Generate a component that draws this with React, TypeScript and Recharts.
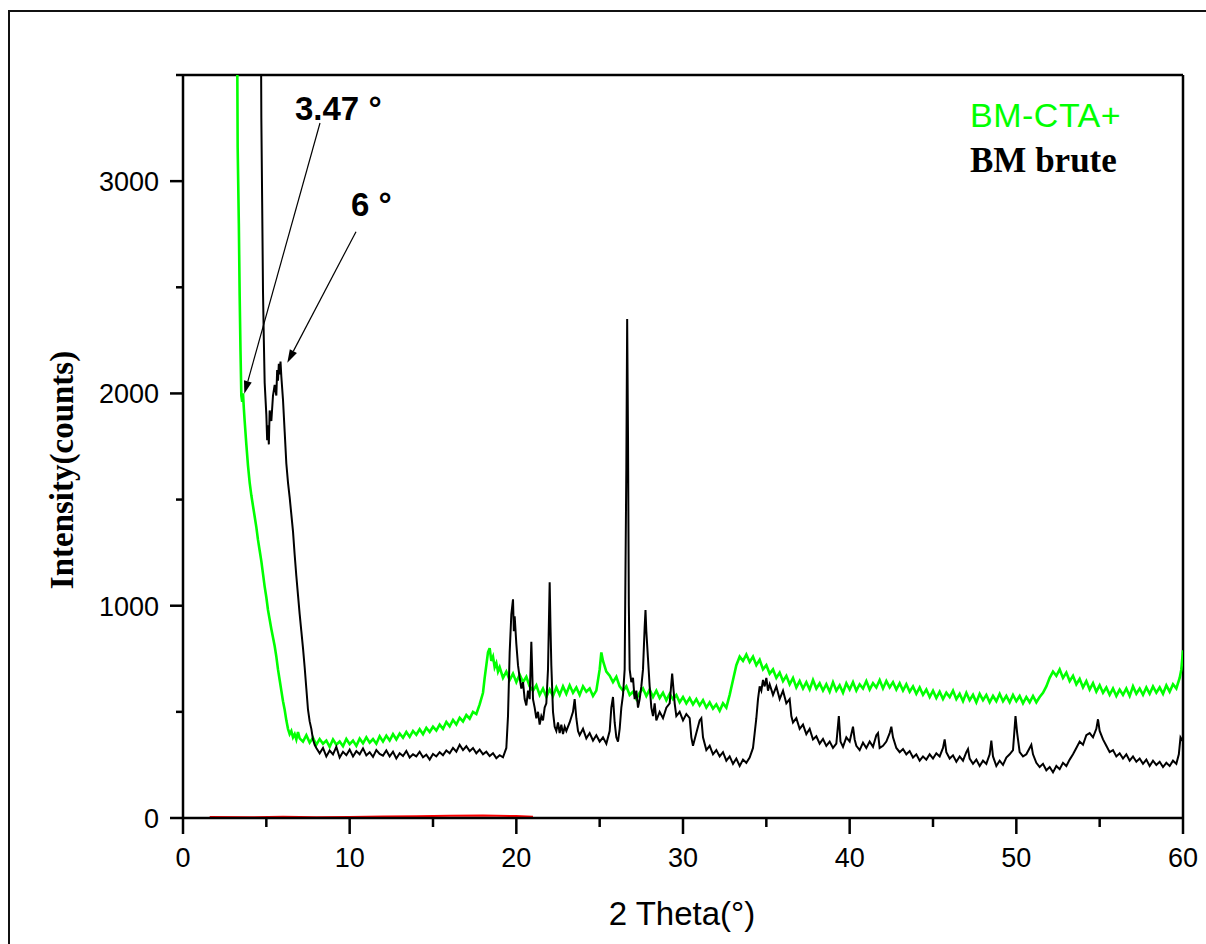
import { LineChart, Line, XAxis, YAxis, ReferenceLine, Legend } from 'recharts';

// 2-theta positions of the axis ticks, majors get a label
const thetaTicks = [0, 5, 10, 15, 20, 25, 30, 35, 40, 45, 50, 55, 60];
const thetaLabels = [0, 10, 20, 30, 40, 50, 60];
const countTicks = [0, 500, 1000, 1500, 2000, 2500, 3000, 3500];
const countLabels = [0, 1000, 2000, 3000];

// BM brute (black trace), [2theta, counts]
const bmBrute: [number, number][] = [
  [4.5, 6500], [4.65, 4200], [4.7, 3300], [4.75, 2900], [4.8, 2480], [4.85, 2250], [4.9, 2050],
  [5.0, 1900], [5.05, 1780], [5.1, 1850], [5.15, 1760], [5.2, 1920], [5.3, 1870], [5.4, 1990],
  [5.5, 2040], [5.6, 1990], [5.65, 2110], [5.7, 2060], [5.75, 2140], [5.8, 2090], [5.85, 2150],
  [5.9, 2080], [6.0, 1970], [6.1, 1820], [6.2, 1670], [6.3, 1580], [6.4, 1510], [6.5, 1430],
  [6.6, 1350], [6.7, 1240], [6.8, 1140], [6.9, 1050], [7.0, 960], [7.1, 880], [7.2, 800],
  [7.3, 710], [7.4, 610], [7.5, 510], [7.6, 455], [7.7, 420], [7.8, 370], [7.9, 345], [8.0, 330],
  [8.2, 305], [8.4, 330], [8.6, 290], [8.8, 318], [9.0, 300], [9.2, 335], [9.4, 285], [9.6, 312],
  [9.8, 296], [10.0, 322], [10.2, 290], [10.4, 315], [10.6, 300], [10.8, 328], [11.0, 295],
  [11.2, 310], [11.4, 288], [11.6, 320], [11.8, 302], [12.0, 294], [12.2, 318], [12.4, 290],
  [12.6, 312], [12.8, 280], [13.0, 305], [13.2, 292], [13.4, 316], [13.6, 285], [13.8, 300],
  [14.0, 290], [14.2, 312], [14.4, 286], [14.6, 298], [14.8, 275], [15.0, 302], [15.2, 290],
  [15.4, 310], [15.6, 296], [15.8, 318], [16.0, 305], [16.2, 330], [16.4, 312], [16.6, 345],
  [16.8, 320], [17.0, 338], [17.2, 315], [17.4, 330], [17.6, 305], [17.8, 322], [18.0, 300],
  [18.2, 312], [18.4, 292], [18.6, 305], [18.8, 282], [19.0, 296], [19.2, 286], [19.4, 330],
  [19.5, 480], [19.6, 780], [19.7, 960], [19.8, 1030], [19.85, 880], [19.9, 950], [20.0, 820],
  [20.1, 720], [20.2, 660], [20.3, 610], [20.4, 640], [20.5, 560], [20.6, 530], [20.7, 600],
  [20.8, 560], [20.9, 830], [20.95, 700], [21.0, 560], [21.1, 520], [21.2, 470], [21.3, 500],
  [21.4, 440], [21.5, 480], [21.6, 460], [21.7, 520], [21.8, 540], [21.9, 700], [22.0, 1110],
  [22.05, 900], [22.1, 720], [22.2, 500], [22.3, 430], [22.4, 410], [22.5, 450], [22.6, 400],
  [22.7, 440], [22.8, 395], [22.9, 430], [23.0, 410], [23.2, 450], [23.4, 500], [23.5, 560],
  [23.6, 470], [23.7, 410], [23.8, 390], [24.0, 420], [24.2, 375], [24.4, 400], [24.6, 365],
  [24.8, 390], [25.0, 360], [25.2, 380], [25.4, 350], [25.6, 410], [25.7, 520], [25.8, 570],
  [25.9, 450], [26.0, 380], [26.1, 360], [26.2, 420], [26.3, 520], [26.4, 580], [26.5, 700],
  [26.6, 1650], [26.65, 2350], [26.7, 1800], [26.75, 1000], [26.8, 700], [26.9, 640], [27.0, 660],
  [27.1, 560], [27.2, 600], [27.3, 520], [27.4, 560], [27.5, 620], [27.6, 700], [27.7, 900],
  [27.75, 980], [27.8, 880], [27.9, 750], [28.0, 620], [28.1, 520], [28.2, 480], [28.3, 540],
  [28.4, 460], [28.6, 500], [28.8, 470], [29.0, 520], [29.2, 540], [29.35, 680], [29.5, 540],
  [29.6, 480], [29.8, 500], [30.0, 460], [30.2, 490], [30.4, 470], [30.5, 380], [30.6, 340],
  [30.8, 400], [31.0, 460], [31.1, 470], [31.2, 380], [31.4, 320], [31.6, 340], [31.8, 300],
  [32.0, 320], [32.2, 290], [32.4, 310], [32.6, 270], [32.8, 290], [33.0, 255], [33.2, 280],
  [33.4, 245], [33.6, 275], [33.8, 260], [34.0, 285], [34.2, 330], [34.3, 400], [34.4, 470],
  [34.5, 560], [34.6, 620], [34.7, 600], [34.8, 650], [34.9, 620], [35.0, 660], [35.1, 600],
  [35.2, 630], [35.4, 580], [35.6, 620], [35.8, 560], [36.0, 600], [36.2, 540], [36.4, 560],
  [36.5, 480], [36.6, 450], [36.8, 470], [37.0, 420], [37.2, 440], [37.4, 395], [37.6, 420],
  [37.8, 370], [38.0, 385], [38.2, 350], [38.4, 372], [38.6, 340], [38.8, 360], [39.0, 330],
  [39.2, 350], [39.35, 480], [39.45, 360], [39.6, 335], [39.8, 380], [40.0, 360], [40.2, 430],
  [40.3, 370], [40.4, 340], [40.6, 320], [40.8, 355], [41.0, 330], [41.2, 360], [41.4, 335],
  [41.6, 390], [41.7, 400], [41.8, 330], [42.0, 340], [42.2, 360], [42.4, 400], [42.5, 430],
  [42.6, 380], [42.8, 330], [43.0, 310], [43.2, 325], [43.4, 300], [43.6, 315], [43.8, 285],
  [44.0, 300], [44.2, 270], [44.4, 290], [44.6, 275], [44.8, 300], [45.0, 280], [45.2, 305],
  [45.4, 290], [45.6, 330], [45.7, 370], [45.8, 310], [46.0, 280], [46.2, 295], [46.4, 265],
  [46.6, 290], [46.8, 270], [47.0, 310], [47.1, 325], [47.2, 280], [47.4, 255], [47.6, 275],
  [47.8, 245], [48.0, 270], [48.2, 255], [48.4, 300], [48.5, 365], [48.6, 290], [48.8, 245],
  [49.0, 270], [49.2, 250], [49.4, 285], [49.6, 300], [49.8, 320], [49.95, 480], [50.05, 400],
  [50.2, 310], [50.4, 290], [50.6, 300], [50.8, 330], [50.9, 345], [51.0, 300], [51.2, 260],
  [51.4, 240], [51.6, 255], [51.8, 225], [52.0, 240], [52.2, 215], [52.4, 245], [52.6, 230],
  [52.8, 260], [53.0, 245], [53.2, 275], [53.4, 300], [53.6, 330], [53.8, 360], [54.0, 345],
  [54.2, 390], [54.4, 400], [54.6, 380], [54.8, 420], [54.9, 465], [55.0, 410], [55.2, 370],
  [55.4, 340], [55.6, 310], [55.8, 320], [56.0, 290], [56.2, 305], [56.4, 280], [56.6, 300],
  [56.8, 270], [57.0, 290], [57.2, 265], [57.4, 280], [57.6, 255], [57.8, 275], [58.0, 245],
  [58.2, 270], [58.4, 250], [58.6, 265], [58.8, 240], [59.0, 260], [59.2, 245], [59.4, 270],
  [59.6, 255], [59.75, 300], [59.85, 380], [60.0, 360],
];

// BM-CTA+ (green trace)
const bmCta: [number, number][] = [
  [3.1, 6000], [3.2, 4500], [3.28, 3160], [3.35, 2800], [3.4, 2460], [3.45, 2200], [3.5, 1990],
  [3.55, 1960], [3.6, 2000], [3.65, 1930], [3.7, 1870], [3.8, 1760], [3.9, 1660], [4.0, 1580],
  [4.1, 1520], [4.2, 1470], [4.3, 1420], [4.4, 1370], [4.5, 1310], [4.6, 1260], [4.7, 1210],
  [4.8, 1150], [4.9, 1090], [5.0, 1040], [5.1, 980], [5.2, 935], [5.3, 890], [5.4, 850],
  [5.5, 810], [5.6, 760], [5.7, 700], [5.8, 650], [5.9, 600], [6.0, 550], [6.1, 510], [6.2, 460],
  [6.3, 420], [6.4, 395], [6.5, 410], [6.6, 380], [6.7, 395], [6.8, 370], [6.9, 405], [7.0, 375],
  [7.2, 360], [7.4, 390], [7.6, 355], [7.8, 378], [8.0, 345], [8.2, 372], [8.4, 350], [8.6, 365],
  [8.8, 335], [9.0, 370], [9.2, 345], [9.4, 360], [9.6, 338], [9.8, 372], [10.0, 348],
  [10.2, 365], [10.4, 340], [10.6, 374], [10.8, 352], [11.0, 380], [11.2, 355], [11.4, 372],
  [11.6, 350], [11.8, 385], [12.0, 360], [12.2, 388], [12.4, 365], [12.6, 395], [12.8, 370],
  [13.0, 398], [13.2, 378], [13.4, 405], [13.6, 382], [13.8, 410], [14.0, 392], [14.2, 418],
  [14.4, 395], [14.6, 425], [14.8, 405], [15.0, 430], [15.2, 412], [15.4, 440], [15.6, 420],
  [15.8, 452], [16.0, 432], [16.2, 462], [16.4, 440], [16.6, 472], [16.8, 455], [17.0, 485],
  [17.2, 468], [17.4, 500], [17.6, 490], [17.8, 535], [18.0, 590], [18.1, 660], [18.2, 720],
  [18.3, 780], [18.4, 800], [18.5, 740], [18.6, 760], [18.7, 710], [18.8, 730], [18.9, 690],
  [19.0, 710], [19.2, 660], [19.4, 690], [19.6, 650], [19.8, 680], [20.0, 640], [20.2, 675],
  [20.4, 640], [20.6, 665], [20.8, 620], [21.0, 600], [21.2, 625], [21.4, 580], [21.6, 610],
  [21.8, 570], [22.0, 605], [22.2, 575], [22.4, 615], [22.6, 580], [22.8, 620], [23.0, 585],
  [23.2, 625], [23.4, 590], [23.6, 615], [23.8, 580], [24.0, 620], [24.2, 595], [24.4, 610],
  [24.6, 575], [24.8, 600], [25.0, 700], [25.1, 780], [25.2, 740], [25.4, 690], [25.6, 670],
  [25.8, 640], [26.0, 665], [26.2, 620], [26.4, 600], [26.6, 620], [26.8, 580], [27.0, 595],
  [27.2, 560], [27.4, 590], [27.6, 610], [27.8, 575], [28.0, 605], [28.2, 570], [28.4, 600],
  [28.6, 565], [28.8, 590], [29.0, 555], [29.2, 585], [29.4, 560], [29.6, 580], [29.8, 545],
  [30.0, 570], [30.2, 540], [30.4, 565], [30.6, 535], [30.8, 560], [31.0, 530], [31.2, 555],
  [31.4, 520], [31.6, 545], [31.8, 515], [32.0, 535], [32.2, 505], [32.4, 540], [32.6, 520],
  [32.8, 580], [33.0, 650], [33.2, 720], [33.4, 760], [33.6, 740], [33.8, 770], [34.0, 735],
  [34.2, 760], [34.4, 720], [34.6, 745], [34.8, 700], [35.0, 720], [35.2, 680], [35.4, 700],
  [35.6, 660], [35.8, 685], [36.0, 645], [36.2, 670], [36.4, 630], [36.6, 660], [36.8, 615],
  [37.0, 645], [37.2, 610], [37.4, 640], [37.6, 605], [37.8, 650], [38.0, 610], [38.2, 635],
  [38.4, 600], [38.6, 630], [38.8, 595], [39.0, 640], [39.2, 600], [39.4, 625], [39.6, 590],
  [39.8, 635], [40.0, 605], [40.2, 640], [40.4, 600], [40.6, 630], [40.8, 610], [41.0, 645],
  [41.2, 605], [41.4, 635], [41.6, 615], [41.8, 650], [42.0, 610], [42.2, 645], [42.4, 615],
  [42.6, 640], [42.8, 605], [43.0, 635], [43.2, 600], [43.4, 630], [43.6, 595], [43.8, 620],
  [44.0, 585], [44.2, 615], [44.4, 580], [44.6, 605], [44.8, 570], [45.0, 600], [45.2, 565],
  [45.4, 595], [45.6, 560], [45.8, 590], [46.0, 570], [46.2, 600], [46.4, 560], [46.6, 585],
  [46.8, 550], [47.0, 590], [47.2, 555], [47.4, 580], [47.6, 545], [47.8, 585], [48.0, 555],
  [48.2, 580], [48.4, 545], [48.6, 575], [48.8, 550], [49.0, 585], [49.2, 550], [49.4, 575],
  [49.6, 545], [49.8, 580], [50.0, 550], [50.2, 575], [50.4, 540], [50.6, 570], [50.8, 545],
  [51.0, 575], [51.2, 545], [51.4, 570], [51.6, 590], [51.8, 620], [52.0, 660], [52.2, 690],
  [52.4, 670], [52.6, 700], [52.8, 660], [53.0, 685], [53.2, 645], [53.4, 670], [53.6, 630],
  [53.8, 655], [54.0, 615], [54.2, 645], [54.4, 605], [54.6, 635], [54.8, 595], [55.0, 625],
  [55.2, 590], [55.4, 615], [55.6, 580], [55.8, 610], [56.0, 575], [56.2, 605], [56.4, 580],
  [56.6, 610], [56.8, 575], [57.0, 620], [57.2, 585], [57.4, 610], [57.6, 580], [57.8, 615],
  [58.0, 585], [58.2, 620], [58.4, 590], [58.6, 615], [58.8, 585], [59.0, 625], [59.2, 595],
  [59.4, 630], [59.6, 610], [59.8, 660], [59.9, 700], [60.0, 790],
];

// near-zero red trace hugging the x axis
const blank: [number, number][] = [
  [1.6, 5], [4, 3], [6, 6], [8, 4], [10, 5], [12, 7], [14, 8], [16, 11], [18, 12], [20, 9], [21, 6],
];

// arrow annotations: label, tail (2theta, counts), head (2theta, counts)
const peakNotes = [
  { label: '3.47 °', from: [8.22, 3274], to: [3.68, 1998], dx: -25, dy: -3 },
  { label: '6 °', from: [10.38, 2762], to: [6.26, 2145], dx: -5, dy: -16 },
];

const SANS = "Arial, 'Liberation Sans', sans-serif";
const SERIF = "'Times New Roman', 'Liberation Serif', serif";

const toPoints = (pairs: [number, number][]) => pairs.map(([x, y]) => ({ x, y }));

function ThetaTick({ x, y, payload }: any) {
  const major = thetaLabels.includes(payload.value);
  return (
    <g>
      <line x1={x} y1={y} x2={x} y2={y + (major ? 16 : 9)} stroke="#000" strokeWidth={2.5} />
      {major && (
        <text x={x} y={y + 49} textAnchor="middle" fontFamily={SANS} fontSize={27} fill="#000">
          {payload.value}
        </text>
      )}
    </g>
  );
}

function CountTick({ x, y, payload }: any) {
  const major = countLabels.includes(payload.value);
  return (
    <g>
      <line x1={x - (major ? 13 : 7)} y1={y} x2={x} y2={y} stroke="#000" strokeWidth={2.5} />
      {major && (
        <text x={x - 24} y={y + 10} textAnchor="end" fontFamily={SANS} fontSize={27} fill="#000">
          {payload.value}
        </text>
      )}
    </g>
  );
}

function arrowShape(label: string, dx: number, dy: number) {
  return (p: any) => {
    const { x1, y1, x2, y2 } = p;
    const ang = Math.atan2(y2 - y1, x2 - x1);
    const len = 13;
    const half = 4;
    const bx = x2 - len * Math.cos(ang);
    const by = y2 - len * Math.sin(ang);
    const nx = -Math.sin(ang) * half;
    const ny = Math.cos(ang) * half;
    return (
      <g>
        <line x1={x1} y1={y1} x2={bx} y2={by} stroke="#000" strokeWidth={1.2} />
        <polygon points={`${x2},${y2} ${bx + nx},${by + ny} ${bx - nx},${by - ny}`} fill="#000" />
        <text x={x1 + dx} y={y1 + dy} fontFamily={SANS} fontWeight="bold" fontSize={33} fill="#000">
          {label}
        </text>
      </g>
    );
  };
}

function SampleKey() {
  return (
    <div style={{ whiteSpace: 'nowrap' }}>
      <div style={{ fontFamily: SANS, fontSize: 34, lineHeight: '46px', color: '#00ff00', letterSpacing: 0.5 }}>BM-CTA+</div>
      <div style={{ fontFamily: SERIF, fontSize: 35, fontWeight: 'bold', lineHeight: '46px', color: '#000' }}>
        BM brute
      </div>
    </div>
  );
}

export default function App() {
  return (
    <div style={{ position: 'absolute', left: 0, top: 0, width: 1206, height: 944, background: '#fff', overflow: 'hidden' }}>
      <div style={{ position: 'absolute', left: 8, top: 10, width: 1400, height: 1200, borderTop: '2px solid #111', borderLeft: '2px solid #111' }} />
      <div style={{ position: 'absolute', left: 0, top: 0 }}>
        <LineChart width={1206} height={944} margin={{ top: 75, right: 23, bottom: 46, left: 83 }}>
          <XAxis
            dataKey="x"
            type="number"
            domain={[0, 60]}
            ticks={thetaTicks}
            interval={0}
            allowDataOverflow
            height={80}
            tickSize={0}
            tickMargin={0}
            tickLine={false}
            axisLine={{ stroke: '#000', strokeWidth: 2.5 }}
            tick={<ThetaTick />}
            label={{ value: '2 Theta(°)', position: 'insideBottom', offset: 0, content: () => (
              <text x={682} y={925} textAnchor="middle" fontFamily={SANS} fontSize={33} fill="#000">2 Theta(°)</text>
            ) }}
          />
          <YAxis
            type="number"
            domain={[0, 3500]}
            ticks={countTicks}
            interval={0}
            allowDataOverflow
            width={100}
            tickSize={0}
            tickMargin={0}
            tickLine={false}
            axisLine={{ stroke: '#000', strokeWidth: 2.5 }}
            tick={<CountTick />}
            label={{ value: 'Intensity(counts)', content: () => (
              <text x={73} y={470} transform="rotate(-90, 73, 470)" textAnchor="middle" fontFamily={SERIF} fontWeight="bold" fontSize={33} fill="#000">
                Intensity(counts)
              </text>
            ) }}
          />
          <ReferenceLine y={3500} stroke="#000" strokeWidth={2.5} ifOverflow="extendDomain" />
          <ReferenceLine x={60} stroke="#000" strokeWidth={2.5} ifOverflow="extendDomain" />
          <Legend
            layout="vertical"
            align="center"
            verticalAlign="middle"
            content={() => <SampleKey />}
            wrapperStyle={{ left: 970, top: 92, width: 200 }}
          />
          <Line data={toPoints(blank)} dataKey="y" name="blank" stroke="#ff0000" strokeWidth={2} dot={false} isAnimationActive={false} legendType="none" />
          <Line data={toPoints(bmCta)} dataKey="y" name="BM-CTA+" stroke="#00ff00" strokeWidth={2.6} dot={false} isAnimationActive={false} />
          <Line data={toPoints(bmBrute)} dataKey="y" name="BM brute" stroke="#000" strokeWidth={2} dot={false} isAnimationActive={false} />
          {peakNotes.map(n => (
            <ReferenceLine
              key={n.label}
              segment={[{ x: n.from[0], y: n.from[1] }, { x: n.to[0], y: n.to[1] }]}
              shape={arrowShape(n.label, n.dx, n.dy)}
            />
          ))}
        </LineChart>
      </div>
    </div>
  );
}
